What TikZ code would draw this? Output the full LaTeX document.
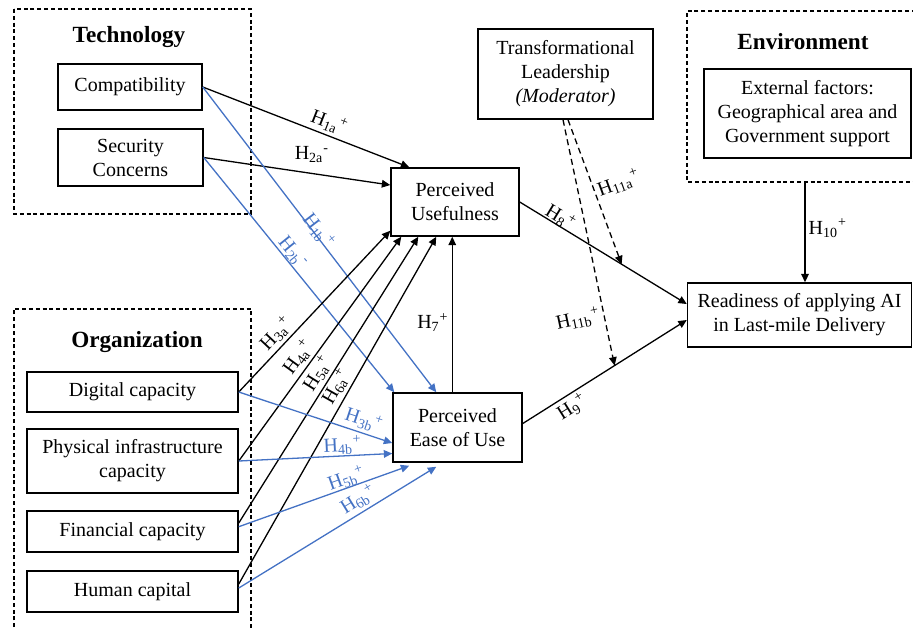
\documentclass[tikz,border=0pt]{standalone}
\usepackage{fontspec}
\setmainfont{Liberation Serif}
\usepackage{tikz}
\usetikzlibrary{
  arrows.meta,
  positioning,
  calc,
}
\definecolor{hypBlue}{HTML}{4472C4}
\newcommand{\hyp}[2]{H\textsubscript{#1}\textsuperscript{#2}}
\tikzset{
  varbox/.style 2 args={
    rectangle, draw=black, line width=0.75pt, inner sep=2pt,
    minimum width=#1, minimum height=#2, align=center,
    font=\fontsize{10}{12}\selectfont,
  },
  grpframe/.style={
    line width=0.6pt, dash pattern=on 2pt off 1.4pt,
  },
  grptitle/.style={
    font=\fontsize{11.6}{14}\selectfont\bfseries,
  },
  hlabel/.style={
    inner sep=1.5pt, font=\fontsize{10}{11}\selectfont,
  },
  hlabelBlue/.style={
    hlabel, text=hypBlue,
  },
  arrowBlk/.style={
    -{Triangle[length=4.2pt,width=3.8pt]}, line width=0.65pt, draw=black,
  },
  arrowBlue/.style={
    -{Triangle[length=4.2pt,width=3.8pt]}, line width=0.65pt, draw=hypBlue,
  },
  arrowMod/.style={
    arrowBlk, dash pattern=on 3pt off 2pt,
  },
}

\begin{document}
\begin{tikzpicture}[x=0.5pt, y=-0.5pt]
\useasboundingbox (0,0) rectangle (913,629);

% TOE groups
\draw[grpframe] (14,9) rectangle (251,214);
\draw[grpframe] (14,634) -- (14,309) -- (251,309) -- (251,634);
\draw[grpframe] (916,11) -- (687,11) -- (687,182) -- (916,182);
\node[grptitle] (techTitle) at (129,37) {Technology};
\node[grptitle] (orgTitle) at (137,342) {Organization};
\node[grptitle] (envTitle) at (803,42) {Environment};
\coordinate (envBottom) at (805,182);

% constructs
\node[varbox={72pt}{23pt}] (compat) at (130,87) {Compatibility};
\node[varbox={72.5pt}{28.5pt}] (secur) at (130.5,157.5) {Security\\Concerns};
\node[varbox={105.5pt}{20pt}] (digital) at (132.5,392) {Digital capacity};
\node[varbox={105.5pt}{32pt}] (physical) at (132.5,461) {Physical infrastructure\\capacity};
\node[varbox={105.5pt}{20.5pt}] (financial) at (132.5,531.5) {Financial capacity};
\node[varbox={105.5pt}{20.5pt}] (human) at (132.5,591.5) {Human capital};
\node[varbox={64pt}{34pt}] (pu) at (455,202) {Perceived\\Usefulness};
\node[varbox={64.5pt}{34.5pt}] (peou) at (457.5,427.5) {Perceived\\Ease of Use};
\node[varbox={87.5pt}{45pt}] (leader) at (565.5,74) {Transformational\\Leadership\\\textit{(Moderator)}};
\node[varbox={103.5pt}{44.5pt}] (extern) at (807.5,113.5) {External factors:\\Geographical area and\\Government support};
\node[varbox={112pt}{32pt}] (ready) at (799.5,315) {Readiness of applying AI\\in Last-mile Delivery};

% technology -> PU / PEOU
\draw[arrowBlk] (compat.east) -- node[hlabel, sloped, above, pos=0.59] {\hyp{1a}{+}} ([xshift=9.5pt]pu.north west);
\draw[arrowBlk] (secur.east) -- node[hlabel, above=3.5pt, pos=0.58] {\hyp{2a}{-}} ([yshift=8.5pt]pu.west);
\draw[arrowBlue] (compat.east) -- node[hlabelBlue, sloped, above=-4pt, pos=0.48] {\hyp{1b}{+}} ([xshift=22pt]peou.north west);
\draw[arrowBlue] (secur.east) -- node[hlabelBlue, sloped, above=-1.5pt, pos=0.43] {\hyp{2b}{-}} ([xshift=1pt]peou.north west);

% organization -> PU
\draw[arrowBlk] (digital.east) -- node[hlabel, sloped, above, pos=0.31] {\hyp{3a}{+}} ([yshift=3pt]pu.south west);
\draw[arrowBlk] (physical.east) -- node[hlabel, sloped, above, pos=0.43] {\hyp{4a}{+}} ([xshift=5.5pt]pu.south west);
\draw[arrowBlk] ([yshift=4.25pt]financial.east) -- node[hlabel, sloped, above, pos=0.5] {\hyp{5a}{+}} ([xshift=14pt]pu.south west);
\draw[arrowBlk] ([yshift=3.75pt]human.east) -- node[hlabel, sloped, above, pos=0.55] {\hyp{6a}{+}} ([xshift=23pt]pu.south west);

% organization -> PEOU
\draw[arrowBlue] (digital.east) -- node[hlabelBlue, sloped, above, pos=0.79] {\hyp{3b}{+}} ([yshift=-7.75pt]peou.west);
\draw[arrowBlue] (physical.east) -- node[hlabelBlue, sloped, above=-1pt, pos=0.68] {\hyp{4b}{+}} ([yshift=-13pt]peou.west);
\draw[arrowBlue] ([yshift=2.4pt]financial.east) -- node[hlabelBlue, sloped, above=-2pt, pos=0.65] {\hyp{5b}{+}} ([xshift=8.5pt,yshift=-1.5pt]peou.south west);
\draw[arrowBlue] ([yshift=1.75pt]human.east) -- node[hlabelBlue, sloped, above, pos=0.64] {\hyp{6b}{+}} ([xshift=22pt,yshift=-2pt]peou.south west);

% PEOU -> PU
\coordinate (h7foot) at ([xshift=30pt]peou.north west);
\draw[arrowBlk] (h7foot) -- node[hlabel, left, pos=0.45] {\hyp{7}{+}} (h7foot |- pu.south);

% PU / PEOU -> readiness
\draw[arrowBlk] (pu.east) -- coordinate[pos=0.61] (mod8) node[hlabel, sloped, above=-2.5pt, pos=0.22] {\hyp{8}{+}} ([yshift=5.5pt]ready.west);
\draw[arrowBlk] ([yshift=2pt]peou.east) -- coordinate[pos=0.56] (mod9) node[hlabel, sloped, below, pos=0.26] {\hyp{9}{+}} ([yshift=-2.5pt]ready.west);

% environment -> readiness
\draw[arrowBlk] (envBottom) -- node[hlabel, right, pos=0.46] {\hyp{10}{+}} (envBottom |- ready.north);

% moderator
\draw[arrowMod] ([xshift=1.25pt]leader.south) -- node[hlabel, right, rotate=20, pos=0.5] {\hyp{11a}{+}} (mod8);
\draw[arrowMod] ([xshift=-1.25pt]leader.south) -- node[hlabel, left, rotate=12, pos=0.79] {\hyp{11b}{+}} (mod9);

\end{tikzpicture}
\end{document}
